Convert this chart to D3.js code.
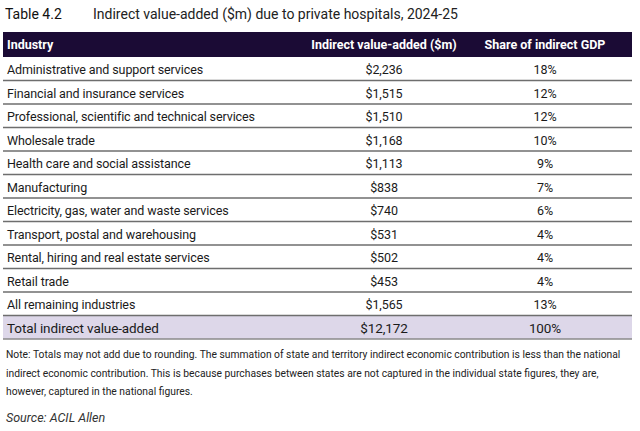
<!DOCTYPE html>
<html>
<head>
<meta charset="utf-8">
<script src="https://cdn.jsdelivr.net/npm/d3@7"></script>
<style>
  body { margin: 0; background: #fff; }
  text { font-family: "Liberation Sans Narrow", "Roboto", sans-serif; }
</style>
</head>
<body>
<div id="chart"></div>
<script>
// Table 4.2 data
var columns = ["Industry", "Indirect value-added ($m)", "Share of indirect GDP"];
var industries = [
    "Administrative and support services",
    "Financial and insurance services",
    "Professional, scientific and technical services",
    "Wholesale trade",
    "Health care and social assistance",
    "Manufacturing",
    "Electricity, gas, water and waste services",
    "Transport, postal and warehousing",
    "Rental, hiring and real estate services",
    "Retail trade",
    "All remaining industries"
];
var valueAdded = [2236, 1515, 1510, 1168, 1113, 838, 740, 531, 502, 453, 1565];
var shares = [18, 12, 12, 10, 9, 7, 6, 4, 4, 4, 13];
var totalLabel = "Total indirect value-added";
var totalValue = 12172;
var totalShare = 100;
var noteLines = [
    "Note: Totals may not add due to rounding. The summation of state and territory indirect economic contribution is less than the national",
    "indirect economic contribution. This is because purchases between states are not captured in the individual state figures, they are,",
    "however, captured in the national figures."
];
var sourceText = "Source: ACIL Allen";

var width = 640, height = 431;
var left = 3, right = 632;
var headerTop = 32, headerBottom = 57, tableBottom = 339;

var svg = d3.select("#chart").append("svg")
    .attr("width", width)
    .attr("height", height);

// Title
svg.append("text")
    .attr("x", 5).attr("y", 19)
    .style("font-family", "Roboto, sans-serif")
    .style("font-size", "14px")
    .attr("fill", "#111")
    .text("Table 4.2");
svg.append("text")
    .attr("x", 93).attr("y", 19)
    .style("font-family", "Roboto, sans-serif")
    .style("font-size", "14px")
    .attr("fill", "#222")
    .text("Indirect value-added ($m) due to private hospitals, 2024-25");

var fmt = d3.format(",");
var rows = industries.map(function (name, i) {
    return { name: name, value: "$" + fmt(valueAdded[i]), share: shares[i] + "%", total: false };
});
rows.push({ name: totalLabel, value: "$" + fmt(totalValue), share: totalShare + "%", total: true });

var y = d3.scaleBand()
    .domain(d3.range(rows.length))
    .range([headerBottom, tableBottom]);

var colX = [7, 384, 545];

// Header
svg.append("rect")
    .attr("x", left).attr("y", headerTop)
    .attr("width", right - left).attr("height", headerBottom - headerTop)
    .attr("fill", "#1b0b35");
svg.selectAll("text.header")
    .data(columns)
    .enter()
    .append("text")
    .attr("class", "header")
    .attr("x", function (d, i) { return colX[i]; })
    .attr("y", (headerTop + headerBottom) / 2)
    .attr("dy", "0.35em")
    .style("text-anchor", function (d, i) { return i === 0 ? "start" : "middle"; })
    .style("font-size", "12.5px")
    .style("font-weight", "bold")
    .attr("fill", "#fff")
    .text(function (d) { return d; });

// Total row background
svg.append("rect")
    .attr("x", left).attr("y", y(rows.length - 1))
    .attr("width", right - left).attr("height", y.bandwidth())
    .attr("fill", "#ddd7e9");

var row = svg.selectAll("g.row")
    .data(rows)
    .enter()
    .append("g")
    .attr("class", "row")
    .attr("transform", function (d, i) { return "translate(0," + y(i) + ")"; });

row.append("line")
    .attr("x1", left).attr("x2", right)
    .attr("y1", y.bandwidth()).attr("y2", y.bandwidth())
    .attr("stroke", function (d) { return d.total ? "#8a8a8a" : "#6e6e6e"; })
    .attr("stroke-width", 1.3);

row.selectAll("text")
    .data(function (d) { return [d.name, d.value, d.share].map(function (t) { return { t: t, total: d.total }; }); })
    .enter()
    .append("text")
    .attr("x", function (d, i) { return colX[i]; })
    .attr("y", y.bandwidth() / 2 + 1)
    .attr("dy", "0.36em")
    .style("text-anchor", function (d, i) { return i === 0 ? "start" : "middle"; })
    .style("font-family", "Roboto, sans-serif")
    .style("font-size", function (d) { return d.total ? "13.5px" : "12.5px"; })
    .style("letter-spacing", "-0.1px")
    .attr("fill", "#1a1a1a")
    .text(function (d) { return d.t; });

// Notes
svg.selectAll("text.note")
    .data(noteLines)
    .enter()
    .append("text")
    .attr("class", "note")
    .attr("x", 6)
    .attr("y", function (d, i) { return 358 + i * 18.5; })
    .style("font-size", "10.3px")
    .attr("fill", "#222")
    .text(function (d) { return d; });

svg.append("text")
    .attr("x", 6).attr("y", 422)
    .style("font-family", "Roboto, sans-serif")
    .style("font-size", "12.5px")
    .style("font-style", "italic")
    .attr("fill", "#333")
    .text(sourceText);
</script>
</body>
</html>
